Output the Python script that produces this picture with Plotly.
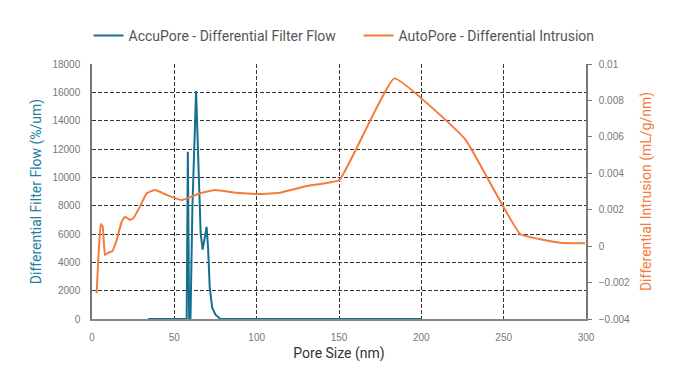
import plotly.graph_objects as go

# AccuPore - Differential Filter Flow (%/um)
accu_x = [34, 57.5, 58.2, 59.0, 59.8, 61.0, 63.2, 64.5, 66.0, 67.2, 68.5, 69.6, 70.5, 71.5, 73.0, 75.0, 78.0, 200]
accu_y = [0, 0, 11800, 0, 0, 8000, 16100, 11000, 6000, 4900, 5800, 6500, 5000, 2200, 800, 300, 0, 0]

# AutoPore - Differential Intrusion (mL/g/nm)
auto_x = [2.8, 3.9, 5.3, 6.5, 7.9, 9.9, 12.3, 15.0, 18.0, 20.0, 23.1, 25.1, 29.1, 33.2, 38.3,
          45.4, 54.5, 65.6, 74.7, 87.9, 102, 114, 130.4, 150.2, 183.6, 226.6, 260, 284.2, 299.4]
auto_y = [-0.00259, -0.00058, 0.00122, 0.00107, -0.00049, -0.00036, -0.00028, 0.00034, 0.00134,
          0.00162, 0.00144, 0.00153, 0.00217, 0.0029, 0.00308, 0.00281, 0.00253, 0.0029, 0.00308,
          0.00293, 0.00286, 0.00293, 0.0033, 0.00363, 0.00921, 0.00587, 0.00067, 0.00019, 0.00016]

TEAL = "#156f8f"
ORANGE = "#f47b39"

fig = go.Figure()
fig.add_trace(go.Scatter(x=accu_x, y=accu_y, mode="lines", name="AccuPore - Differential Filter Flow",
                         line=dict(color=TEAL, width=2), yaxis="y"))
fig.add_trace(go.Scatter(x=auto_x, y=auto_y, mode="lines", name="AutoPore - Differential Intrusion",
                         line=dict(color=ORANGE, width=2, shape="spline", smoothing=0.3), yaxis="y2"))

grid = dict(showgrid=True, gridcolor="#333", griddash="4px,2px", gridwidth=1)
tickfont = dict(family="Liberation Sans", size=10, color="#777")

W, H = 685, 364
fig.update_layout(
    width=W, height=H,
    margin=dict(l=84, r=107, t=56, b=53, autoexpand=False),
    plot_bgcolor="white", paper_bgcolor="white",
    font=dict(family="Roboto, sans-serif", color="#444"),
    showlegend=True,
    legend=dict(orientation="h", x=-0.007, xanchor="left", y=1.11, yanchor="middle",
                font=dict(size=14, color="#555"), entrywidth=225,
                itemwidth=30, tracegroupgap=0),
    xaxis=dict(range=[0, 300], dtick=50, tick0=0, showline=True, linecolor="#888", linewidth=1.5,
               zeroline=False, ticks="", tickfont=tickfont, automargin=False, ticklabelstandoff=8,
               title=dict(text="Pore Size (nm)", font=dict(size=14, color="#333"), standoff=6),
               **grid),
    yaxis=dict(range=[0, 18000], dtick=2000, tickformat="d", showline=True, linecolor="#777",
               linewidth=1.5, zeroline=False, ticks="", tickfont=tickfont, automargin=False,
               ticklabelstandoff=8,
               title=dict(text="Differential Filter Flow (%/um)", font=dict(size=14, color="#1f7ea3"),
                          standoff=8),
               **grid),
    yaxis2=dict(range=[-0.004, 0.01], dtick=0.002, tick0=-0.004, overlaying="y", side="right",
                showline=True, linecolor="#777", linewidth=1.5, zeroline=False, showgrid=False,
                ticks="outside", ticklen=4, tickcolor="#777", tickfont=tickfont, automargin=False,
                ticklabelstandoff=5,
                title=dict(text="Differential Intrusion (mL/g/nm)", font=dict(size=14, color=ORANGE),
                           standoff=12)),
)

fig.write_html("out.html")
